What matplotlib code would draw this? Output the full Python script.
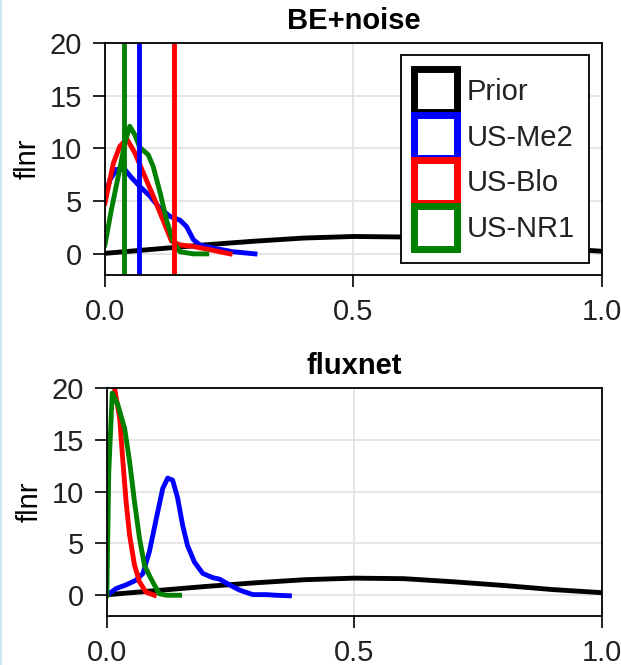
import numpy as np
import matplotlib
matplotlib.use("Agg")
import matplotlib.pyplot as plt
from matplotlib.patches import Patch, Rectangle
from matplotlib.legend_handler import HandlerPatch

plt.rcParams["font.family"] = ["Liberation Sans", "DejaVu Sans"]

# ======= data =======
prior_x = [0.0, 0.1, 0.2, 0.3, 0.4, 0.5, 0.6, 0.7, 0.8, 0.9, 1.0]
prior_y = [0.05, 0.45, 0.85, 1.2, 1.5, 1.65, 1.6, 1.3, 0.95, 0.55, 0.25]

# BE+noise panel
be_me2_x = [0.0, 0.01, 0.023, 0.04, 0.054, 0.07, 0.09, 0.11, 0.131, 0.151, 0.164, 0.178,
            0.191, 0.218, 0.258, 0.302]
be_me2_y = [5.5, 7.0, 8.0, 8.0, 7.2, 6.4, 5.5, 4.35, 3.55, 3.2, 2.6, 1.35,
            0.85, 0.55, 0.2, 0.0]
be_blo_x = [0.0, 0.017, 0.03, 0.044, 0.06, 0.077, 0.097, 0.117, 0.134, 0.151, 0.178, 0.211, 0.252]
be_blo_y = [4.8, 8.6, 10.2, 10.9, 9.6, 7.7, 5.5, 3.2, 1.2, 0.85, 0.7, 0.4, 0.0]
be_nr1_x = [0.0, 0.013, 0.027, 0.04, 0.05, 0.06, 0.07, 0.087, 0.097, 0.111, 0.124, 0.137,
            0.151, 0.178, 0.205]
be_nr1_y = [0.85, 4.2, 7.4, 10.5, 12.1, 11.3, 10.1, 9.4, 8.3, 5.8, 3.2, 1.2,
            0.2, 0.0, 0.0]
be_means = {"US-Me2": 0.069, "US-Blo": 0.139, "US-NR1": 0.038}

# fluxnet panel
fx_me2_x = [0.0, 0.019, 0.039, 0.059, 0.073, 0.086, 0.1, 0.113, 0.123, 0.133, 0.143, 0.153,
            0.163, 0.177, 0.194, 0.214, 0.228, 0.248, 0.268, 0.295, 0.322, 0.342, 0.369]
fx_me2_y = [0.0, 0.65, 1.0, 1.45, 2.1, 4.2, 7.4, 10.3, 11.3, 11.1, 9.4, 6.8,
            4.8, 3.2, 2.1, 1.7, 1.55, 1.0, 0.5, 0.06, 0.06, 0.0, -0.05]
fx_blo_x = [0.0, 0.0155, 0.026, 0.032, 0.039, 0.046, 0.056, 0.066, 0.079, 0.096]
fx_blo_y = [24.0, 20.0, 17.1, 13.2, 9.0, 5.8, 2.9, 1.3, 0.3, 0.0]
fx_nr1_x = [0.0, 0.004, 0.011, 0.022, 0.036, 0.046, 0.056, 0.066, 0.076, 0.086, 0.096,
            0.106, 0.12, 0.147]
fx_nr1_y = [0.0, 12.0, 19.5, 18.4, 16.1, 12.9, 9.0, 5.5, 2.9, 1.9, 1.0,
            0.15, 0.0, 0.0]

SITES = ["US-Me2", "US-Blo", "US-NR1"]
COLORS = {"Prior": "black", "US-Me2": "#0000ff", "US-Blo": "#ff0000", "US-NR1": "#008000"}
FS = 21
LW = 3.5
SQ = 31.0  # legend square side, points


def square_patch(legend, orig_handle, xdescent, ydescent, width, height, fontsize):
    # fixed-size square centred in the handle box
    x0 = -xdescent + (width - SQ) / 2
    y0 = -ydescent + (height - SQ) / 2
    return Rectangle((x0, y0), SQ, SQ)


def style_axes(ax, title):
    ax.set_xlim(0, 1)
    ax.set_ylim(-2, 20)
    ax.set_xticks([0.0, 0.5, 1.0])
    ax.set_xticklabels(["0.0", "0.5", "1.0"])
    ax.set_yticks([0, 5, 10, 15, 20])
    ax.grid(True, color="#e3e3e3", lw=1.3)
    ax.set_axisbelow(True)
    ax.tick_params(direction="out", length=8.5, width=1.2, labelsize=FS, pad=8,
                   colors="black", labelcolor="#222222")
    for s in ax.spines.values():
        s.set_linewidth(1.3)
    ax.set_title(title, fontsize=FS, fontweight="bold", pad=10)
    ax.set_ylabel("flnr", fontsize=FS, labelpad=6)


fig = plt.figure(figsize=(6.21, 6.65), dpi=100)
# thin light-blue strip along the left edge of the screenshot
fig.patches.append(Rectangle((0, 0), 2.0 / 621, 1, transform=fig.transFigure,
                             facecolor="#cde6f2", edgecolor="none"))
ax1 = fig.add_axes([0.169, 0.5865, 0.800, 0.349])
ax2 = fig.add_axes([0.172, 0.0737, 0.797, 0.343])

# --- BE+noise ---
ax1.plot(prior_x, prior_y, color=COLORS["Prior"], lw=LW)
ax1.plot(be_me2_x, be_me2_y, color=COLORS["US-Me2"], lw=LW)
ax1.plot(be_blo_x, be_blo_y, color=COLORS["US-Blo"], lw=LW)
ax1.plot(be_nr1_x, be_nr1_y, color=COLORS["US-NR1"], lw=LW)
for site in SITES:
    ax1.axvline(be_means[site], color=COLORS[site], lw=LW)
style_axes(ax1, "BE+noise")

handles = [Patch(facecolor="white", edgecolor=COLORS[k], linewidth=5, label=k)
           for k in ["Prior"] + SITES]
leg = ax1.legend(handles=handles, loc="upper right", fontsize=FS, frameon=True,
                 fancybox=False, edgecolor="black", framealpha=1,
                 handler_map={Patch: HandlerPatch(patch_func=square_patch)},
                 handlelength=1.35, handleheight=1.8, labelspacing=0.15,
                 handletextpad=0.4, borderpad=0.5, borderaxespad=0.43)
leg.get_frame().set_linewidth(1.3)
for t in leg.get_texts():
    t.set_color("#222222")

# --- fluxnet ---
ax2.plot(prior_x, prior_y, color=COLORS["Prior"], lw=LW)
ax2.plot(fx_me2_x, fx_me2_y, color=COLORS["US-Me2"], lw=LW)
ax2.plot(fx_blo_x, fx_blo_y, color=COLORS["US-Blo"], lw=LW)
ax2.plot(fx_nr1_x, fx_nr1_y, color=COLORS["US-NR1"], lw=LW)
style_axes(ax2, "fluxnet")

fig.savefig("out.png", dpi=100)
